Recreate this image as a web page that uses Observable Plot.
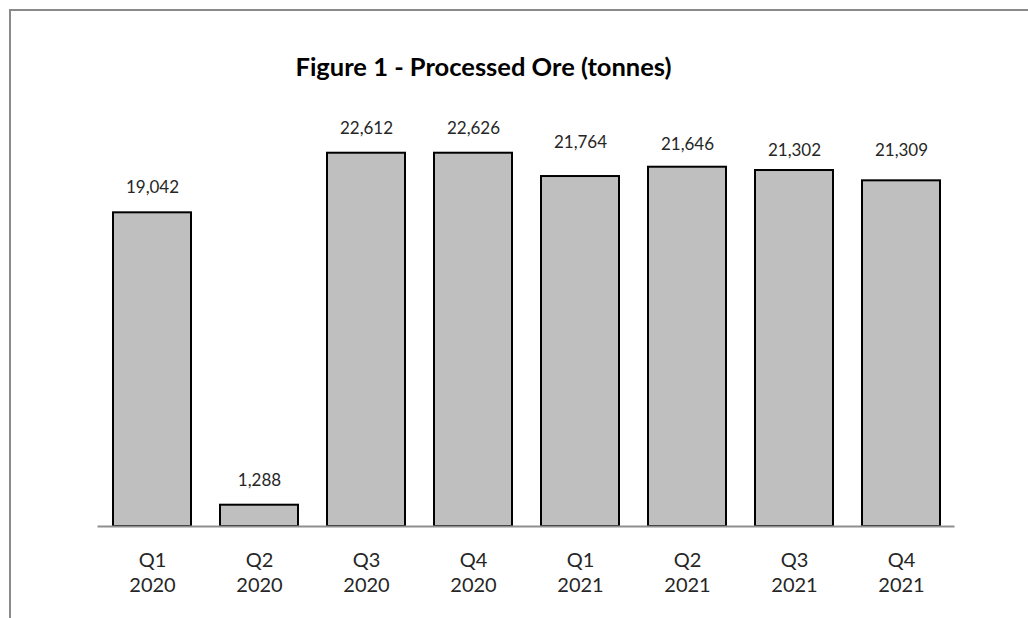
<!DOCTYPE html>
<html>
<head>
<meta charset="utf-8">
<script src="https://cdn.jsdelivr.net/npm/d3@7"></script>
<script src="https://cdn.jsdelivr.net/npm/@observablehq/plot@0.6"></script>
<style>
  html, body { margin: 0; padding: 0; background: #fff; }
  body { width: 1028px; height: 618px; position: relative; overflow: hidden; font-family: Lato, "Open Sans", sans-serif; }
  #frame { position: absolute; left: 9px; top: 9px; right: -5px; bottom: -5px; border-top: 2px solid #8a8a8a; border-left: 2px solid #8a8a8a; }
  #title { position: absolute; left: 0; top: 0; width: 967px; height: 100px; line-height: 1; text-align: center; font-weight: bold; font-size: 25.5px; color: #000; padding-top: 54px; box-sizing: border-box; }
  #chart { position: absolute; left: 0; top: 100px; }
</style>
</head>
<body>
<div id="frame"></div>
<div id="title">Figure 1 - Processed Ore (tonnes)</div>
<div id="chart"></div>
<script>
// Quarter labels
const quarters = ["Q1", "Q2", "Q3", "Q4", "Q1", "Q2", "Q3", "Q4"];
const years = ["2020", "2020", "2020", "2020", "2021", "2021", "2021", "2021"];
// Bar heights as drawn in the picture (tonnes)
const barValues = [19002, 1290, 22612, 22612, 21200, 21764, 21564, 20940];
// Data labels printed above the bars (tonnes)
const labelValues = [19042, 1288, 22612, 22626, 21764, 21646, 21302, 21309];

const data = quarters.map((q, i) => ({
  key: q + "\n" + years[i],
  bar: barValues[i],
  label: labelValues[i]
}));

const chart = Plot.plot({
  width: 1028,
  height: 518,
  marginLeft: 97.5,
  marginRight: 73.5,
  marginTop: 13.3,
  marginBottom: 92,
  style: { fontFamily: "Lato, 'Open Sans', sans-serif", background: "transparent", overflow: "visible" },
  x: { domain: data.map(d => d.key), paddingInner: 0.272, paddingOuter: 0.136, label: null },
  y: { domain: [0, 25000], axis: null },
  marks: [
    Plot.barY(data, { x: "key", y: "bar", fill: "#bfbfbf", stroke: "#000", strokeWidth: 2 }),
    Plot.ruleY([0], { stroke: "#8f8f8f", strokeWidth: 2 }),
    Plot.text(data, { x: "key", y: "label", text: d => d3.format(",")(d.label), dy: -24.5, fontSize: 17, fill: "#262626" }),
    Plot.axisX({ tickSize: 0, tickPadding: 23, fontSize: 20, lineHeight: 1.25, color: "#262626", label: null })
  ]
});
document.getElementById("chart").appendChild(chart);
</script>
</body>
</html>
